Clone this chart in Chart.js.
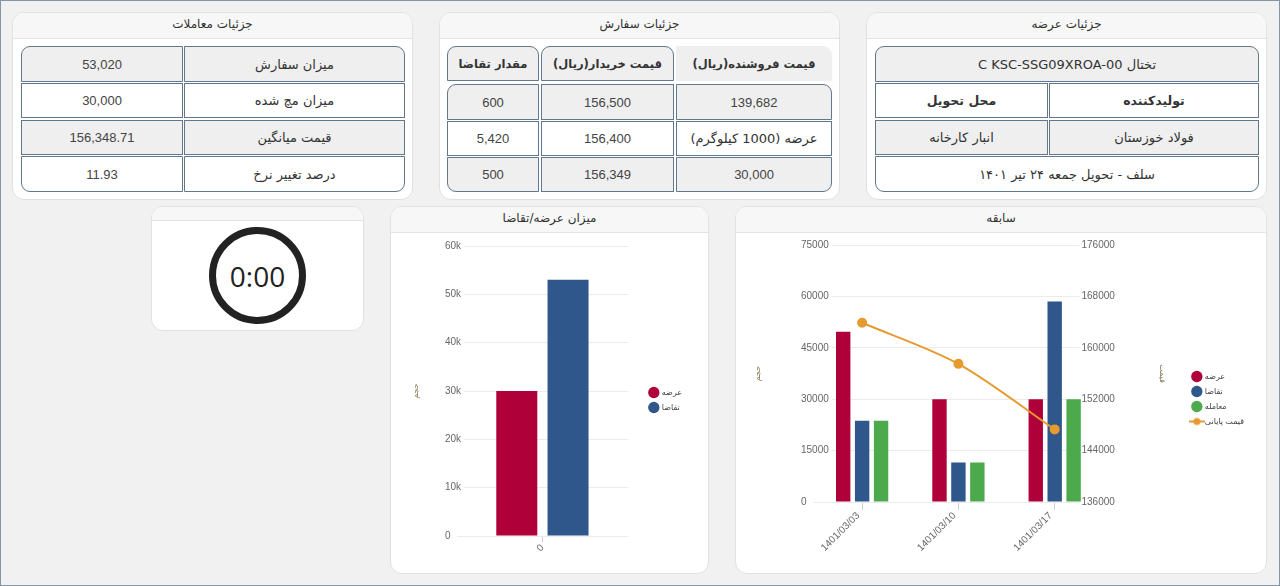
<!DOCTYPE html>
<html lang="fa">
<head>
<meta charset="utf-8">
<title>داشبورد معامله</title>
<script src="https://cdn.jsdelivr.net/npm/chart.js@4.4.0/dist/chart.umd.min.js"></script>
<style>
    body {
        margin: 0;
        width: 1280px;
        height: 586px;
        position: relative;
        overflow: hidden;
        background: #f1f1f1;
        font-family: "DejaVu Sans", sans-serif;
    }
    .frame {
        position: absolute;
        left: 0; top: 0;
        width: 1280px; height: 586px;
        box-sizing: border-box;
        border: 1px solid #8496aa;
        pointer-events: none;
    }
    .card {
        position: absolute;
        box-sizing: border-box;
        background: #fff;
        border: 1px solid #e1e1e1;
        border-radius: 12px;
        overflow: hidden;
    }
    .card-head {
        height: 25px;
        line-height: 23px;
        background: #f7f7f7;
        border-bottom: 1px solid #e3e3e3;
        text-align: center;
        font-size: 12px;
        color: #333;
        direction: rtl;
    }
    .cell {
        position: absolute;
        box-sizing: border-box;
        border: 1px solid #62778c;
        display: flex;
        align-items: center;
        justify-content: center;
        font-size: 13px;
        color: #333;
        direction: rtl;
        white-space: nowrap;
    }
    .g { background: #efefef; }
    .w { background: #fff; }
    .b { font-weight: bold; font-size: 11.5px; }
    .bl { font-weight: bold; font-size: 12.5px; }
    .num { font-family: "Liberation Sans", "DejaVu Sans", sans-serif; font-size: 13px; color: #444; }
    .nob { border-color: transparent; }
    .chart-box { position: absolute; }
    .timer-ring {
        position: absolute;
        left: 209px; top: 227px;
        width: 97px; height: 97px;
        box-sizing: border-box;
        border: 7px solid #222;
        border-radius: 50%;
        display: flex;
        align-items: center;
        justify-content: center;
        font-family: "Open Sans", "DejaVu Sans", sans-serif;
        font-size: 28px;
        color: #222;
    }
</style>
</head>
<body>

<!-- کارت‌ها -->
<div class="card" style="left:12px;top:12px;width:401px;height:188px;"><div class="card-head">جزئیات معاملات</div></div>
<div class="card" style="left:439px;top:12px;width:401px;height:188px;"><div class="card-head">جزئیات سفارش</div></div>
<div class="card" style="left:866px;top:12px;width:401px;height:188px;"><div class="card-head">جزئیات عرضه</div></div>
<div class="card" style="left:151px;top:206px;width:213px;height:125px;"><div class="card-head" style="height:13px;"></div></div>
<div class="card" style="left:390px;top:206px;width:319px;height:368px;"><div class="card-head">میزان عرضه/تقاضا</div></div>
<div class="card" style="left:735px;top:206px;width:532px;height:368px;"><div class="card-head">سابقه</div></div>

<!-- جزئیات معاملات -->
<div class="cell g" style="left:184px;top:46px;width:221px;height:36px;border-top-right-radius:9px;">میزان سفارش</div>
<div class="cell g num" style="left:21px;top:46px;width:162px;height:36px;border-top-left-radius:9px;">53,020</div>
<div class="cell w" style="left:184px;top:83px;width:221px;height:35px;">میزان مچ شده</div>
<div class="cell w num" style="left:21px;top:83px;width:162px;height:35px;">30,000</div>
<div class="cell g" style="left:184px;top:120px;width:221px;height:35px;">قیمت میانگین</div>
<div class="cell g num" style="left:21px;top:120px;width:162px;height:35px;">156,348.71</div>
<div class="cell w" style="left:184px;top:156px;width:221px;height:36px;border-bottom-right-radius:9px;">درصد تغییر نرخ</div>
<div class="cell w num" style="left:21px;top:156px;width:162px;height:36px;border-bottom-left-radius:9px;">11.93</div>

<!-- جزئیات سفارش -->
<div class="cell g b" style="left:447px;top:46px;width:92px;height:35px;border-radius:9px 9px 0 0;">مقدار تقاضا</div>
<div class="cell g b" style="left:541px;top:46px;width:133px;height:35px;border-radius:9px 9px 0 0;">قیمت خریدار(ریال)</div>
<div class="cell g b nob" style="left:676px;top:46px;width:156px;height:35px;border-radius:0 9px 0 0;">قیمت فروشنده(ریال)</div>
<div class="cell g num" style="left:447px;top:84px;width:92px;height:36px;border-top-left-radius:9px;">600</div>
<div class="cell g num" style="left:541px;top:84px;width:133px;height:36px;">156,500</div>
<div class="cell g num" style="left:676px;top:84px;width:156px;height:36px;border-top-right-radius:9px;">139,682</div>
<div class="cell w num" style="left:447px;top:121px;width:92px;height:35px;">5,420</div>
<div class="cell w num" style="left:541px;top:121px;width:133px;height:35px;">156,400</div>
<div class="cell w" style="left:676px;top:121px;width:156px;height:35px;">عرضه (1000 کیلوگرم)</div>
<div class="cell g num" style="left:447px;top:157px;width:92px;height:35px;border-bottom-left-radius:9px;">500</div>
<div class="cell g num" style="left:541px;top:157px;width:133px;height:35px;">156,349</div>
<div class="cell g num" style="left:676px;top:157px;width:156px;height:35px;border-bottom-right-radius:9px;">30,000</div>

<!-- جزئیات عرضه -->
<div class="cell g" style="left:875px;top:46px;width:384px;height:36px;border-radius:9px 9px 0 0;">تختال C KSC-SSG09XROA-00</div>
<div class="cell w bl" style="left:1049px;top:83px;width:210px;height:35px;">تولیدکننده</div>
<div class="cell w bl" style="left:875px;top:83px;width:173px;height:35px;">محل تحویل</div>
<div class="cell g" style="left:1049px;top:120px;width:210px;height:35px;">فولاد خوزستان</div>
<div class="cell g" style="left:875px;top:120px;width:173px;height:35px;">انبار کارخانه</div>
<div class="cell w" style="left:875px;top:156px;width:384px;height:36px;border-radius:0 0 9px 9px;">سلف - تحویل جمعه ۲۴ تیر ۱۴۰۱</div>

<!-- تایمر -->
<div class="timer-ring">0:00</div>

<div class="chart-box" style="left:391px;top:233px;width:316px;height:339px;"><canvas id="sdChart"></canvas></div>
<div class="chart-box" style="left:736px;top:227px;width:529px;height:345px;"><canvas id="historyChart"></canvas></div>

<div class="frame"></div>

<script>
// میزان عرضه/تقاضا
const sdLabels = ['0'];
const sdSupply = [30000];
const sdDemand = [53020];
const sdTicks = [0, 10000, 20000, 30000, 40000, 50000, 60000];

// سابقه
const historyDates = ['1401/03/03', '1401/03/10', '1401/03/17'];
const historySupply = [49700, 30000, 30000];
const historyDemand = [23700, 11500, 58500];
const historyTrade = [23700, 11500, 30000];
const historyClosePrice = [163900, 157500, 147300];
const volumeTicks = [0, 15000, 30000, 45000, 60000, 75000];
const priceTicks = [136000, 144000, 152000, 160000, 168000, 176000];

const SUPPLY_COLOR = '#b0003a';
const DEMAND_COLOR = '#2f578c';
const TRADE_COLOR = '#4caa4c';
const PRICE_COLOR = '#e79a2f';
const GRID_COLOR = '#ebebeb';
const TICK_COLOR = '#666';
const TITLE_COLOR = '#8a7652';

Chart.defaults.font.family = '"Liberation Sans", "DejaVu Sans", sans-serif';
Chart.defaults.animation = false;

// small legend icon for the line series: a short line with a dot
const lineIcon = document.createElement('canvas');
lineIcon.width = 16;
lineIcon.height = 10;
(() => {
    const c = lineIcon.getContext('2d');
    c.strokeStyle = PRICE_COLOR;
    c.lineWidth = 2;
    c.beginPath();
    c.moveTo(0, 5);
    c.lineTo(16, 5);
    c.stroke();
    c.fillStyle = PRICE_COLOR;
    c.beginPath();
    c.arc(8, 5, 3.5, 0, Math.PI * 2);
    c.fill();
})();

function legendItems(chart) {
    const items = Chart.defaults.plugins.legend.labels.generateLabels(chart);
    items.sort((a, b) => a.datasetIndex - b.datasetIndex);
    items.forEach(item => {
        if (chart.data.datasets[item.datasetIndex].type === 'line') {
            item.pointStyle = lineIcon;
        }
    });
    return items;
}

const legendOptions = {
    position: 'right',
    labels: {
        usePointStyle: true,
        pointStyle: 'circle',
        font: { size: 8 },
        color: '#444',
        padding: 7,
        generateLabels: legendItems
    }
};

function stepOf(ticks) {
    return ticks[1] - ticks[0];
}

// labels sit inside the plot (mirror) with a white backdrop hiding the grid under them
function volumeAxis(ticks, formatter, shift, width) {
    return {
        position: 'left',
        min: ticks[0],
        max: ticks[ticks.length - 1],
        ticks: {
            stepSize: stepOf(ticks),
            callback: formatter,
            mirror: true,
            padding: shift,
            showLabelBackdrop: true,
            backdropColor: '#fff',
            backdropPadding: { top: 0, bottom: 0, left: 0, right: 3 },
            font: { size: 10 },
            color: TICK_COLOR
        },
        grid: { color: GRID_COLOR, drawTicks: false },
        border: { display: false },
        title: { display: true, text: 'حجم', font: { size: 8 }, color: TITLE_COLOR },
        afterFit: scale => { scale.width = width; }
    };
}

function categoryAxis(tickLength, height, labelOffset) {
    return {
        grid: { drawOnChartArea: false, offset: false, color: '#cfcfcf', tickLength },
        border: { display: false },
        ticks: { minRotation: 45, maxRotation: 45, padding: 0, labelOffset, font: { size: 10 }, color: TICK_COLOR },
        afterFit: scale => { scale.height = height; }
    };
}

// نمودار عرضه/تقاضا
new Chart(document.getElementById('sdChart'), {
    type: 'bar',
    data: {
        labels: sdLabels,
        datasets: [
            { label: 'عرضه', data: sdSupply, backgroundColor: SUPPLY_COLOR },
            { label: 'تقاضا', data: sdDemand, backgroundColor: DEMAND_COLOR }
        ]
    },
    options: {
        responsive: true,
        maintainAspectRatio: false,
        layout: { padding: { left: 16, top: 13, right: 17, bottom: 18 } },
        datasets: { bar: { barPercentage: 0.8, categoryPercentage: 0.6 } },
        plugins: { legend: legendOptions, tooltip: { enabled: false } },
        scales: {
            x: categoryAxis(6, 18, 0),
            y: volumeAxis(sdTicks, v => v === 0 ? '0' : (v / 1000) + 'k', -12, 50),
            ySpace: {
                position: 'right',
                ticks: { display: false },
                grid: { display: false },
                border: { display: false },
                afterFit: scale => { scale.width = 15; }
            }
        }
    }
});

// نمودار سابقه
new Chart(document.getElementById('historyChart'), {
    type: 'bar',
    data: {
        labels: historyDates,
        datasets: [
            { label: 'عرضه', data: historySupply, backgroundColor: SUPPLY_COLOR, yAxisID: 'y' },
            { label: 'تقاضا', data: historyDemand, backgroundColor: DEMAND_COLOR, yAxisID: 'y' },
            { label: 'معامله', data: historyTrade, backgroundColor: TRADE_COLOR, yAxisID: 'y' },
            {
                type: 'line',
                label: 'قیمت پایانی',
                data: historyClosePrice,
                yAxisID: 'y1',
                borderColor: PRICE_COLOR,
                backgroundColor: PRICE_COLOR,
                borderWidth: 2,
                pointRadius: 4,
                tension: 0.3,
                order: -1
            }
        ]
    },
    options: {
        responsive: true,
        maintainAspectRatio: false,
        layout: { padding: { left: 13, top: 0, right: 11, bottom: 1 } },
        datasets: { bar: { barPercentage: 0.76, categoryPercentage: 0.59 } },
        plugins: { legend: legendOptions, tooltip: { enabled: false } },
        scales: {
            x: categoryAxis(8, 69, -4),
            y: volumeAxis(volumeTicks, v => String(v), -13, 65),
            y1: {
                position: 'right',
                min: priceTicks[0],
                max: priceTicks[priceTicks.length - 1],
                ticks: {
                    stepSize: stepOf(priceTicks),
                    callback: v => String(v),
                    mirror: true,
                    padding: 12,
                    showLabelBackdrop: true,
                    backdropColor: '#fff',
                    backdropPadding: { top: 0, bottom: 0, left: 2, right: 0 },
                    font: { size: 10 },
                    color: TICK_COLOR
                },
                grid: { drawOnChartArea: false, drawTicks: false },
                border: { display: false },
                title: { display: true, text: 'قیمت', font: { size: 8 }, color: TITLE_COLOR, padding: { top: 19, bottom: 4 } },
                afterFit: scale => { scale.width = 83; }
            }
        }
    }
});
</script>
</body>
</html>
